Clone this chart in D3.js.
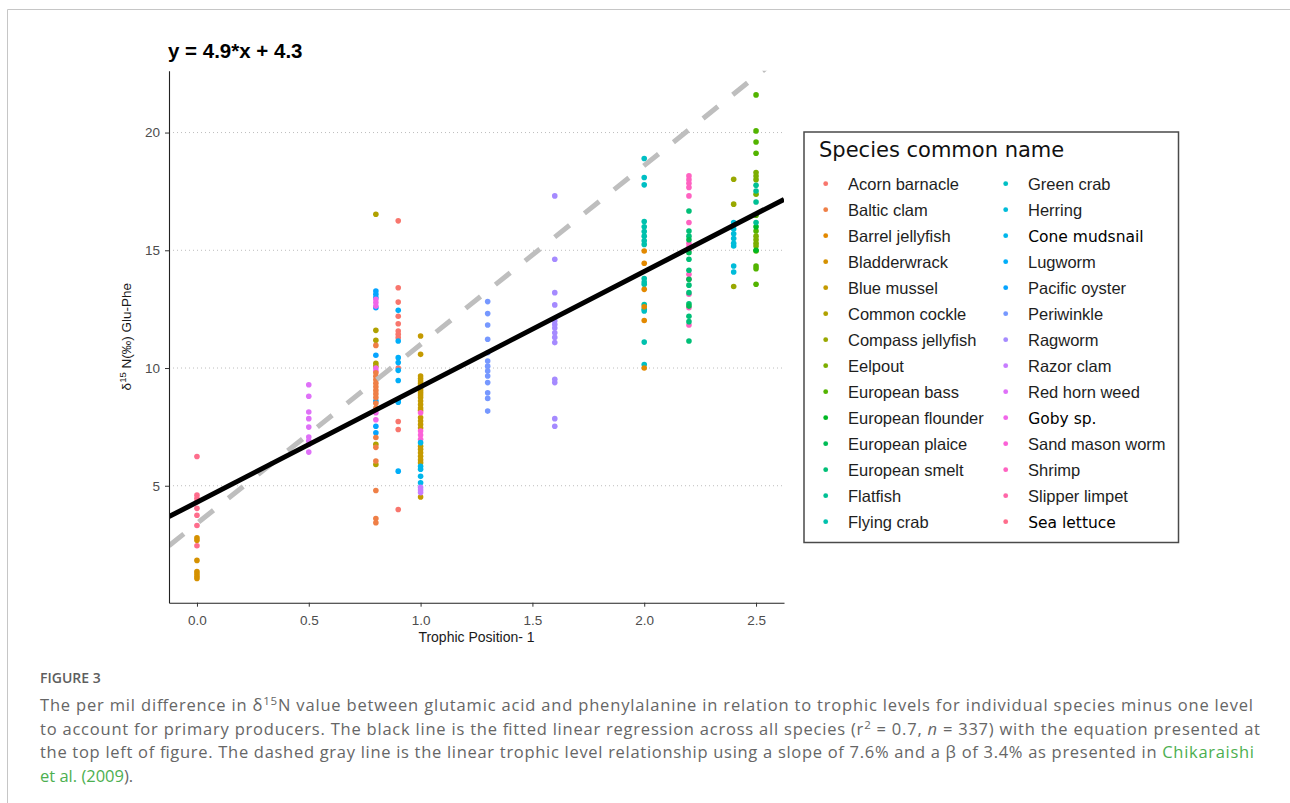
<!DOCTYPE html>
<html>
<head>
<meta charset="utf-8">
<title>Glu-Phe vs trophic position</title>
<script src="https://cdn.jsdelivr.net/npm/d3@7"></script>
<style>
  body { margin: 0; background: #fff; }
  svg text { font-family: "Liberation Sans", Arial, sans-serif; }
  svg text.cap { font-family: "Open Sans", "Noto Sans", sans-serif; }
</style>
</head>
<body>
<svg id="fig" width="1290" height="803"></svg>
<script>
// legend order = factor levels (colours follow this order)
const speciesNames = [
    "Acorn barnacle", "Baltic clam", "Barrel jellyfish", "Bladderwrack", "Blue mussel",
    "Common cockle", "Compass jellyfish", "Eelpout", "European bass", "European flounder",
    "European plaice", "European smelt", "Flatfish", "Flying crab",
    "Green crab", "Herring", "Cone mudsnail", "Lugworm", "Pacific oyster", "Periwinkle",
    "Ragworm", "Razor clam", "Red horn weed", "Goby sp.", "Sand mason worm", "Shrimp",
    "Slipper limpet", "Sea lettuce"
];
// these labels were pasted in with another font in the original legend
const editedLabels = ["Cone mudsnail", "Goby sp.", "Sea lettuce"];

const xTicks = [0, 0.5, 1, 1.5, 2, 2.5];
const yTicks = [5, 10, 15, 20];

const fitLine = [4.9, 4.3];          // slope, intercept of regression
const chikaraishiLine = [7.6, 3.4];  // slope, beta

// d15N Glu-Phe values, grouped by trophic position - 1
const tp00 = {
    "Sea lettuce": [6.24, 4.6, 4.46, 4.32, 4.04, 3.75, 3.31, 2.45],
    "Bladderwrack": [2.79, 2.69, 1.83, 1.36, 1.26, 1.16, 1.06]
};
const tp05 = {
    "Red horn weed": [9.29, 8.8, 8.13, 7.85, 7.49, 7.07, 6.91, 6.76, 6.43]
};
const tp08 = {
    "Common cockle": [16.53, 11.6, 11.18, 10.2, 10.08, 6.76, 5.9],
    "Pacific oyster": [13.27, 13.13, 12.99, 12.56, 10.54, 8.6, 7.53, 7.25],
    "Goby sp.": [12.92, 12.78, 12.63, 10.0, 9.87, 8.1, 7.8],
    "Baltic clam": [10.96, 9.8, 9.65, 9.5, 9.35, 9.2, 9.05, 8.9, 8.75, 8.5, 8.3, 7.05, 6.63, 6.05, 4.8, 3.61, 3.43]
};
const tp09 = {
    "Acorn barnacle": [16.25, 13.41, 12.8, 12.2, 11.88, 11.57, 11.43, 11.29, 10.0, 7.73, 7.39, 3.99],
    "Lugworm": [12.45, 11.15, 10.44, 10.23, 9.9, 9.47, 8.6, 8.55, 5.62]
};
const tp10 = {
    "Blue mussel": [11.36, 10.58, 9.66, 9.55, 9.45, 9.35, 9.25, 9.15, 9.05, 8.95, 8.85, 8.75, 8.6, 8.45,
                    8.3, 8.2, 7.9, 7.75, 7.6, 7.45, 6.68, 6.55, 6.4, 6.25, 6.1, 5.98, 4.52],
    "Sand mason worm": [8.1, 7.32, 7.15, 6.97],
    "Cone mudsnail": [6.83, 5.83, 5.7, 5.4, 5.13],
    "Razor clam": [4.93, 4.82, 4.71]
};
const tp13 = {
    "Periwinkle": [12.82, 12.31, 11.83, 11.22, 10.65, 10.3, 10.08, 9.87, 9.66, 9.38, 8.95, 8.71, 8.17]
};
const tp16 = {
    "Ragworm": [17.31, 14.62, 13.2, 12.68, 12.0, 11.85, 11.7, 11.5, 11.3, 11.08, 9.52, 9.38, 7.85, 7.53]
};
const tp20 = {
    "Flying crab": [16.22, 16.0, 15.8, 15.6, 15.4, 15.25, 13.8, 13.65, 13.56, 12.7, 12.5, 11.1],
    "Green crab": [18.9, 18.09, 17.78, 12.42, 10.15],
    "Barrel jellyfish": [14.97, 14.45, 13.34, 12.6, 12.02, 10.0]
};
const tp22 = {
    "Shrimp": [18.16, 18.0, 17.85, 17.67, 17.31, 16.18, 15.3, 15.15, 15.0, 13.98, 13.77, 13.13, 12.56, 11.83],
    "European smelt": [16.67, 15.82, 15.6, 14.62, 14.15, 13.52, 13.2, 12.73, 12.2, 11.97, 11.15],
    "European plaice": [15.45, 14.9, 13.77, 12.63]
};
const tp24 = {
    "Compass jellyfish": [18.02, 16.96, 13.46],
    "Herring": [16.18, 15.9, 15.7, 15.5, 15.3, 15.18, 14.33, 14.08]
};
const tp25 = {
    "European bass": [21.6, 20.07, 19.6, 19.12, 16.49, 15.82, 14.97, 14.33, 14.22, 13.56],
    "Eelpout": [18.3, 18.15, 18.0, 17.38, 15.6, 15.45, 15.3, 15.18],
    "European flounder": [16.0, 15.0],
    "Flatfish": [17.76, 17.52, 17.05, 16.18]
};
const columns = [[0, tp00], [0.5, tp05], [0.8, tp08], [0.9, tp09], [1.0, tp10],
                 [1.3, tp13], [1.6, tp16], [2.0, tp20], [2.2, tp22], [2.4, tp24], [2.5, tp25]];

// flatten to points
const points = [];
columns.forEach(([tp, group]) => {
    Object.entries(group).forEach(([sp, vals]) => {
        vals.forEach(v => points.push({x: tp, y: v, species: sp}));
    });
});

// R's hcl() (polar LUV) so the colours match ggplot's hue palette
function hclR(h, c, l) {
    const rad = h * Math.PI / 180;
    const U = c * Math.cos(rad), V = c * Math.sin(rad);
    const Y = l > 7.999592 ? Math.pow((l + 16) / 116, 3) : l / 903.3;
    const u = U / (13 * l) + 0.1978398, v = V / (13 * l) + 0.4683363;
    const X = 9 * Y * u / (4 * v);
    const Z = -X / 3 - 5 * Y + 3 * Y / v;
    const g = t => {
        t = t > 0.00304 ? 1.055 * Math.pow(t, 1 / 2.4) - 0.055 : 12.92 * t;
        return Math.round(255 * Math.max(0, Math.min(1, t)));
    };
    return d3.rgb(g(3.240479 * X - 1.537150 * Y - 0.498535 * Z),
                  g(-0.969256 * X + 1.875992 * Y + 0.041556 * Z),
                  g(0.055648 * X - 0.204043 * Y + 1.057311 * Z)).formatHex();
}
const n = speciesNames.length;
const color = d3.scaleOrdinal()
    .domain(speciesNames)
    .range(speciesNames.map((d, i) => hclR(15 + 360 * i / n, 100, 65)));

const svg = d3.select("#fig");

// figure frame
svg.append("path")
    .attr("d", "M7.5,803V9.5H1290")
    .attr("fill", "none")
    .attr("stroke", "#c6c6c6")
    .attr("stroke-width", 1);

const panel = {left: 169, right: 784, top: 70.7, bottom: 602.7};

// ggplot style 5% expansion
function expand(ext) {
    const pad = (ext[1] - ext[0]) * 0.05;
    return [ext[0] - pad, ext[1] + pad];
}
const x = d3.scaleLinear()
    .domain(expand(d3.extent(points, d => d.x)))
    .range([panel.left, panel.right]);
const y = d3.scaleLinear()
    .domain(expand(d3.extent(points, d => d.y)))
    .range([panel.bottom, panel.top]);

svg.append("clipPath").attr("id", "clip")
    .append("rect")
    .attr("x", panel.left).attr("y", panel.top)
    .attr("width", panel.right - panel.left)
    .attr("height", panel.bottom - panel.top);

// dotted grid
svg.append("g").selectAll("line")
    .data(yTicks)
    .enter().append("line")
    .attr("x1", panel.left).attr("x2", panel.right)
    .attr("y1", d => y(d)).attr("y2", d => y(d))
    .attr("stroke", "#bdbdbd")
    .attr("stroke-width", 1)
    .attr("stroke-dasharray", "1,3");

// points
svg.append("g").selectAll("circle")
    .data(points)
    .enter().append("circle")
    .attr("cx", d => x(d.x))
    .attr("cy", d => y(d.y))
    .attr("r", 2.8)
    .attr("fill", d => color(d.species));

// reference lines
const xd = x.domain();
const lines = svg.append("g").attr("clip-path", "url(#clip)");
lines.append("line")
    .attr("x1", x(xd[0])).attr("y1", y(chikaraishiLine[0] * xd[0] + chikaraishiLine[1]))
    .attr("x2", x(xd[1])).attr("y2", y(chikaraishiLine[0] * xd[1] + chikaraishiLine[1]))
    .attr("stroke", "#bebebe")
    .attr("stroke-width", 5)
    .attr("stroke-dasharray", "19,19");
lines.append("line")
    .attr("x1", x(xd[0])).attr("y1", y(fitLine[0] * xd[0] + fitLine[1]))
    .attr("x2", x(xd[1])).attr("y2", y(fitLine[0] * xd[1] + fitLine[1]))
    .attr("stroke", "#000")
    .attr("stroke-width", 5);

// axes
const yAxis = svg.append("g")
    .attr("transform", `translate(${panel.left},0)`)
    .call(d3.axisLeft(y).tickValues(yTicks).tickSize(4).tickPadding(5).tickSizeOuter(0));
const xAxis = svg.append("g")
    .attr("transform", `translate(0,${panel.bottom})`)
    .call(d3.axisBottom(x).tickValues(xTicks).tickFormat(d3.format(".1f"))
        .tickSize(4).tickPadding(9).tickSizeOuter(0));
[yAxis, xAxis].forEach(a => {
    a.select(".domain").attr("stroke", "#222").attr("stroke-width", 1.1);
    a.selectAll(".tick line").attr("stroke", "#333");
    a.selectAll(".tick text")
        .attr("fill", "#4d4d4d")
        .style("font-size", "13.5px")
        .style("font-family", "'Liberation Sans', Arial, sans-serif");
});

// equation title
svg.append("text")
    .attr("x", 168).attr("y", 58)
    .attr("font-size", 20.5)
    .attr("font-weight", "bold")
    .attr("fill", "#000")
    .text(`y = ${fitLine[0]}*x + ${fitLine[1]}`);

// axis titles
svg.append("text")
    .attr("x", (panel.left + panel.right) / 2).attr("y", 641.5)
    .attr("text-anchor", "middle")
    .attr("font-size", 14)
    .attr("fill", "#1a1a1a")
    .text("Trophic Position- 1");

const yTitle = svg.append("text")
    .attr("transform", `translate(131,${(panel.top + panel.bottom) / 2}) rotate(-90)`)
    .attr("text-anchor", "middle")
    .attr("font-size", 13.5)
    .attr("fill", "#1a1a1a");
yTitle.append("tspan").text("δ");
yTitle.append("tspan").attr("dy", -5).attr("font-size", 9.5).text("15");
yTitle.append("tspan").attr("dy", 5).text(" N(‰) Glu-Phe");

// legend
const legend = svg.append("g");
legend.append("rect")
    .attr("x", 804).attr("y", 132)
    .attr("width", 374.5).attr("height", 410.5)
    .attr("fill", "#fff")
    .attr("stroke", "#4a4a4a")
    .attr("stroke-width", 1.5);
legend.append("text")
    .attr("x", 819).attr("y", 156.5)
    .attr("font-size", 21)
    .style("font-family", "'DejaVu Sans', Verdana, sans-serif")
    .attr("fill", "#111")
    .text("Species common name");

const rows = 14;
const item = legend.selectAll(".item")
    .data(speciesNames)
    .enter().append("g")
    .attr("class", "item")
    .attr("transform", (d, i) => `translate(${i < rows ? 825.7 : 1005.7},${183.7 + 26 * (i % rows)})`);
item.append("circle")
    .attr("r", 2.4)
    .attr("fill", d => color(d));
item.append("text")
    .attr("x", d => editedLabels.includes(d) ? 22.5 : 22.3)
    .attr("y", 6)
    .attr("font-size", d => editedLabels.includes(d) ? 15.5 : 16.5)
    .style("font-family", d => editedLabels.includes(d) ? "'DejaVu Sans', Verdana, sans-serif" : "'Liberation Sans', Arial, sans-serif")
    .attr("fill", d => editedLabels.includes(d) ? "#000" : "#1e1e1e")
    .text(d => d);

// caption
const cap = svg.append("g");
cap.append("text")
    .attr("class", "cap")
    .attr("x", 40).attr("y", 683)
    .attr("font-size", 14)
    .attr("font-weight", 600)
    .attr("fill", "#5e5e5e")
    .text("FIGURE 3");

const capGray = "#666", capGreen = "#4caf50";
const capLines = [
    [["The per mil difference in δ"], ["15", "sup"], ["N value between glutamic acid and phenylalanine in relation to trophic levels for individual species minus one level"]],
    [["to account for primary producers. The black line is the fitted linear regression across all species (r"], ["2", "sup"], [" = 0.7, "], ["n", "it"], [" = 337) with the equation presented at"]],
    [["the top left of figure. The dashed gray line is the linear trophic level relationship using a slope of 7.6% and a β of 3.4% as presented in "], ["Chikaraishi", "link"]],
    [["et al. (2009", "link"], [")."]]
];
const capWidths = [1213, 1220, 1214, null];
capLines.forEach((parts, li) => {
    const t = cap.append("text")
        .attr("class", "cap")
        .attr("x", 40).attr("y", 711 + 23.5 * li)
        .attr("font-size", 16.5)
        .attr("fill", capGray);
    parts.forEach(([s, kind], pi) => {
        const ts = t.append("tspan").text(s);
        if (kind === "sup") ts.attr("dy", -6).attr("font-size", 11.5);
        if (kind === "it") ts.attr("font-style", "italic");
        if (kind === "link") ts.attr("fill", capGreen);
        const prev = parts[pi - 1];
        if (prev && prev[1] === "sup") ts.attr("dy", 6);
    });
    if (capWidths[li]) t.attr("textLength", capWidths[li]).attr("lengthAdjust", "spacing");
});
</script>
</body>
</html>
